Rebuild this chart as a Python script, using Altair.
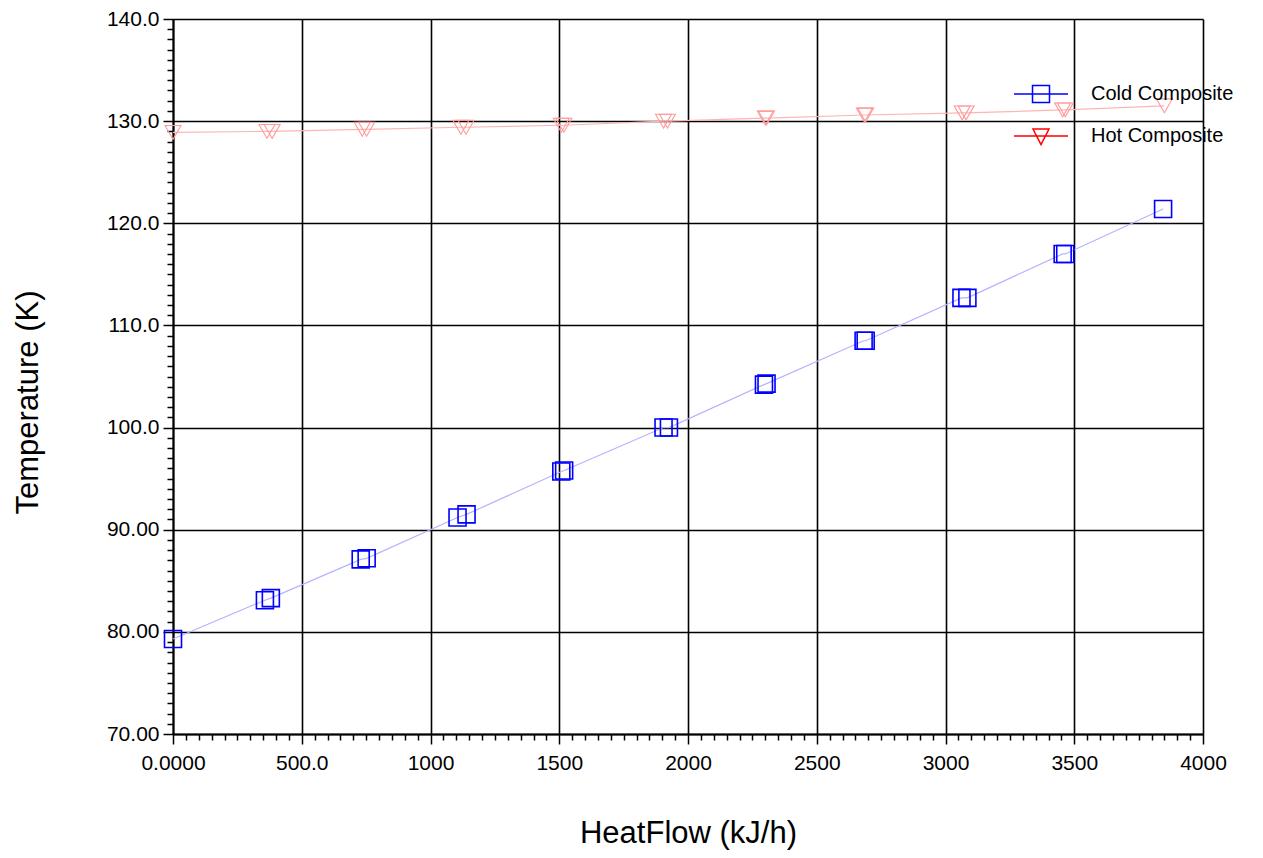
import altair as alt
import pandas as pd

cold_x = [0, 357, 380, 729, 752, 1105, 1140, 1508, 1519, 1905, 1926, 2295, 2305, 2682, 2690, 3062, 3085, 3455, 3465, 3845]
cold_y = [79.3, 83.1, 83.3, 87.1, 87.2, 91.2, 91.5, 95.7, 95.8, 100.0, 100.0, 104.2, 104.3, 108.5, 108.5, 112.7, 112.7, 117.0, 117.0, 121.4]
hot_x = [0, 365, 385, 735, 752, 1118, 1138, 1508, 1518, 1905, 1920, 2300, 2305, 2685, 2690, 3065, 3080, 3455, 3465, 3850]
hot_y = [128.9, 129.0, 129.0, 129.2, 129.2, 129.4, 129.4, 129.6, 129.6, 130.0, 130.0, 130.3, 130.3, 130.6, 130.6, 130.8, 130.8, 131.1, 131.1, 131.5]
series_names = ["Cold Composite", "Hot Composite"]
legend_colors = ["#0000ff", "#ff0000"]
legend_paths = [
    "M-2.7,0H2.7M-0.85,-0.85H0.85V0.85H-0.85Z",
    "M-2.7,0H2.7M-0.8,-0.7H0.8L0,0.85Z",
]
x_ticks = list(range(0, 4001, 50))
y_ticks = list(range(70, 141, 1))

df = pd.DataFrame({
    "series": [series_names[0]] * len(cold_x) + [series_names[1]] * len(hot_x),
    "heat": cold_x + hot_x,
    "temp": cold_y + hot_y,
})

FONT = "Liberation Sans"

x_enc = alt.X(
    "heat:Q",
    scale=alt.Scale(domain=[0, 4000], nice=False, zero=False),
    axis=alt.Axis(
        title="HeatFlow (kJ/h)",
        values=x_ticks,
        format="d",
        labelExpr="datum.value % 500 ? '' : datum.value == 0 ? '0.0000' : datum.value == 500 ? '500.0' : datum.label",
        labelOverlap=False,
        labelFlush=False,
        gridOpacity={"condition": {"test": "datum.value % 500 == 0", "value": 1}, "value": 0},
        tickSize={"condition": {"test": "datum.value % 500 == 0", "value": 10}, "value": 6},
        labelPadding=8,
        titlePadding=45,
    ),
)
y_enc = alt.Y(
    "temp:Q",
    scale=alt.Scale(domain=[70, 140], nice=False, zero=False),
    axis=alt.Axis(
        title="Temperature (K)",
        values=y_ticks,
        labelExpr="datum.value % 10 ? '' : datum.value < 100 ? format(datum.value, '.2f') : format(datum.value, '.1f')",
        labelOverlap=False,
        labelFlush=False,
        gridOpacity={"condition": {"test": "datum.value % 10 == 0", "value": 1}, "value": 0},
        tickSize={"condition": {"test": "datum.value % 10 == 0", "value": 10}, "value": 6},
        labelPadding=4,
        titlePadding=62,
        titleY=383,
    ),
)

base = alt.Chart(df)

cold_line = base.transform_filter(alt.datum.series == series_names[0]).mark_line(
    color="#b4b4ff", strokeWidth=1.2
).encode(x=x_enc, y=y_enc, order="heat:Q")
hot_line = base.transform_filter(alt.datum.series == series_names[1]).mark_line(
    color="#ffb4b4", strokeWidth=1.2
).encode(x=x_enc, y=y_enc, order="heat:Q")
cold_pts = base.transform_filter(alt.datum.series == series_names[0]).mark_point(
    shape="square", size=289, filled=False, color="#0000ff", strokeWidth=1.6, opacity=1
).encode(x=x_enc, y=y_enc)
hot_pts = base.transform_filter(alt.datum.series == series_names[1]).mark_point(
    shape="triangle-down", size=256, filled=False, color="#ff9a9a", strokeWidth=1.1, opacity=1
).encode(x=x_enc, y=y_enc)

leg = alt.Legend(title=None, orient="none", legendX=857, legendY=64,
                 labelFont=FONT, labelFontSize=20, labelColor="#000",
                 symbolSize=400, symbolStrokeWidth=1.5,
                 rowPadding=19, labelOffset=39, padding=0)

legend_layer = base.transform_filter("false").mark_point(
    filled=False, size=400, strokeWidth=1.5, opacity=1
).encode(
    x=x_enc,
    y=y_enc,
    stroke=alt.Stroke("series:N", scale=alt.Scale(domain=series_names, range=legend_colors), legend=leg),
    shape=alt.Shape("series:N", scale=alt.Scale(domain=series_names, range=legend_paths), legend=leg),
)

chart = alt.layer(cold_line, hot_line, cold_pts, hot_pts, legend_layer).properties(
    width=1030,
    height=715,
    autosize=alt.AutoSizeParams(type="none"),
    padding={"left": 165, "top": 11, "right": 52, "bottom": 116},
    background="white",
).configure_view(stroke=None).configure_axis(
    gridColor="#000000",
    gridWidth=1.6,
    domainColor="#000000",
    domainWidth=2,
    tickColor="#000000",
    tickWidth=1.5,
    labelFont=FONT,
    labelFontSize=21,
    labelColor="#000000",
    titleFont=FONT,
    titleFontSize=31,
    titleFontWeight="normal",
    titleColor="#000000",
)

chart.save("out.html", embed_options={"renderer": "svg", "actions": False})
